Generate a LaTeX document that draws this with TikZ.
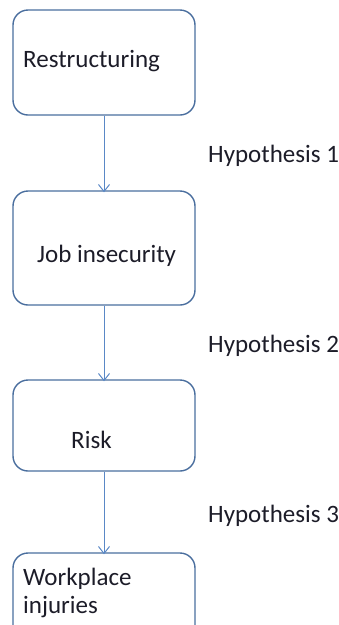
\documentclass[tikz,border=0pt]{standalone}
\usepackage{fontspec}
\setmainfont{Carlito}
\usetikzlibrary{arrows.meta}
\definecolor{boxline}{HTML}{4A6E9E}
\definecolor{arrowline}{HTML}{5A88C6}
\definecolor{ink}{HTML}{1C1C28}
\tikzset{
  stage/.style={draw=boxline, line width=1.4pt, rounded corners=15pt,
    minimum width=182pt, inner sep=0pt},
  caption/.style={inner sep=0pt, text=ink, font=\fontsize{25pt}{28pt}\selectfont},
  link/.style={draw=arrowline, line width=1pt,
    -{Straight Barb[length=7pt,width=11pt,line width=1pt]}}
}
\begin{document}
\begin{tikzpicture}[x=1pt,y=-1pt]
  \clip (0,0) rectangle (339,625);
  \useasboundingbox (0,0) rectangle (339,625);

  % stage boxes
  \node[stage, minimum height=105pt] (restr) at (104,62.5) {};
  \node[stage, minimum height=114pt] (job)   at (104,248) {};
  \node[stage, minimum height=91pt]  (risk)  at (104,425.5) {};
  \node[stage, minimum height=110pt] (inj)   at (104,608) {};

  % box texts
  \node[caption, anchor=base west] (tRestr) at (23,67)  {Restructuring};
  \node[caption, anchor=base west] (tJob)   at (37,262) {Job insecurity};
  \node[caption, anchor=base west] (tRisk)  at (71,448) {Risk};
  \node[caption, anchor=base west] (tInj1)  at (23,585) {Workplace};
  \node[caption, anchor=base west] (tInj2)  at (23,613) {injuries};

  % hypotheses
  \node[caption, anchor=base west] (h1) at (208,162) {Hypothesis 1};
  \node[caption, anchor=base west] (h2) at (208,352) {Hypothesis 2};
  \node[caption, anchor=base west] (h3) at (208,522) {Hypothesis 3};

  % links
  \draw[link] (restr.south) -- ([yshift=-2pt]job.north);
  \draw[link] (job.south) -- ([yshift=-2pt]risk.north);
  \draw[link] (risk.south) -- ([yshift=-2pt]inj.north);
\end{tikzpicture}
\end{document}
